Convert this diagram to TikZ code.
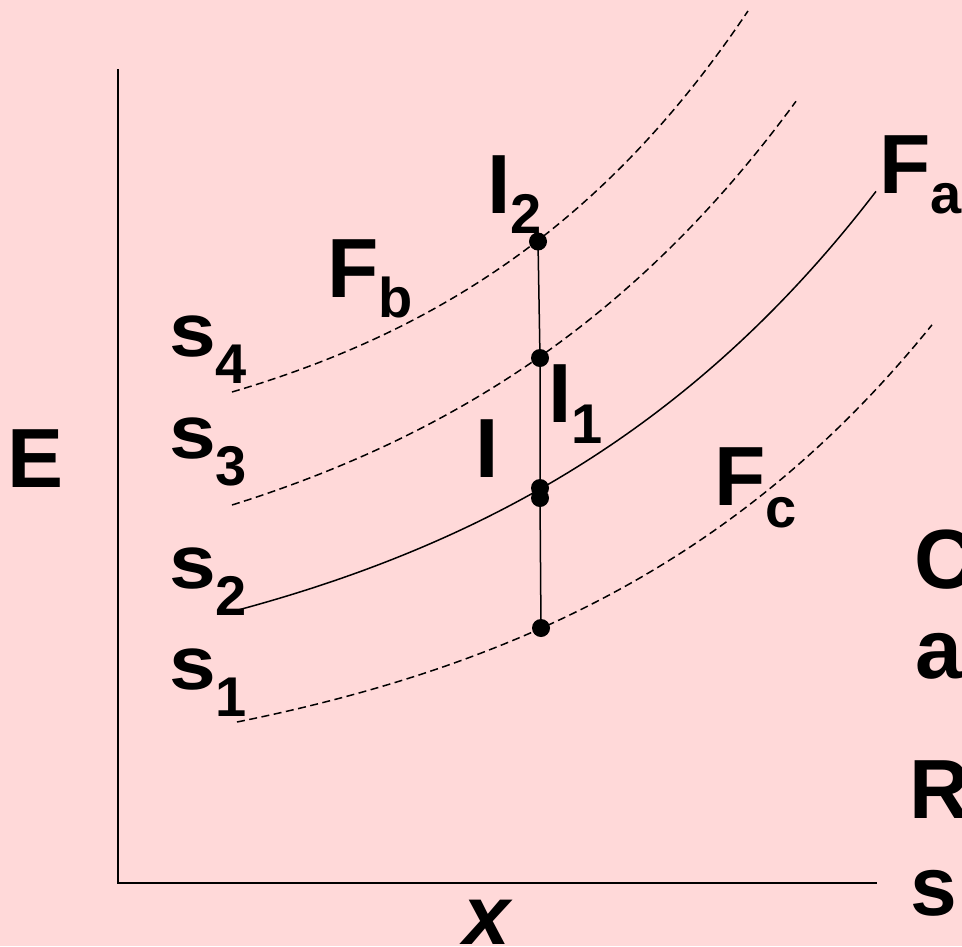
\documentclass[tikz,border=0pt]{standalone}
\usepackage{fontspec}
\setmainfont{Liberation Sans}
\usepackage{graphicx}
\definecolor{bgpink}{RGB}{255,217,217}
\newcommand\bigtxt{\bfseries\fontsize{84}{84}\selectfont}
\newcommand\subtxt{\bfseries\fontsize{56}{56}\selectfont}
\newcommand\mysub[2]{\raisebox{-#1pt}{\subtxt #2}}
\newcommand\slab[1]{\scalebox{1}[0.9]{\bigtxt s}\mysub{27}{#1}}
\begin{document}
\begin{tikzpicture}[x=1pt,y=-1pt,
  lab/.style={inner sep=0pt,outer sep=0pt,anchor=base west,font=\bigtxt},
  axis/.style={line width=1.8pt},
  curve/.style={line width=1.5pt},
  dashcurve/.style={line width=1.5pt,dash pattern=on 8pt off 4.5pt},
  dot/.style={circle,fill=black,inner sep=0pt,minimum size=18pt}]
\fill[bgpink] (0,0) rectangle (962,946);
\useasboundingbox (0,0) rectangle (962,946);
\clip (0,0) rectangle (962,946);
% axes
\coordinate (ytop) at (118,69);
\coordinate (orig) at (118,883);
\coordinate (xend) at (877,883);
\draw[axis] (ytop) -- (orig) -- (xend);
% curves
\draw[dashcurve] plot[domain=232:748,samples=80] (\x,{392-93.8*(exp(0.003148*(\x-232))-1)});
\draw[dashcurve] plot[domain=232:796,samples=80] (\x,{505-120.3*(exp(0.002604*(\x-232))-1)});
\draw[curve] plot[domain=238:876,samples=80] (\x,{610-109*(exp(0.002473*(\x-238))-1)});
\draw[dashcurve] plot[domain=237:932,samples=80] (\x,{722-77.4*(exp(0.002616*(\x-237))-1)});
% points
\node[dot] (i2) at (538,241.5) {};
\node[dot] (i1) at (540,358) {};
\node[dot] (ia) at (540,488) {};
\node[dot] (ib) at (540,498) {};
\node[dot] (ic) at (541,628) {};
\draw[curve] (i2.center) -- (i1.center) -- (ia.center) -- (ib.center) -- (ic.center);
% labels
\node[lab] (E) at (7,487) {E};
\node[lab] (s4) at (169,356) {\slab{4}};
\node[lab] (s3) at (169,458) {\slab{3}};
\node[lab] (s2) at (169,588) {\slab{2}};
\node[lab] (s1) at (169,689) {\slab{1}};
\node[lab] (Fb) at (327,297) {F\mysub{20}{b}};
\node[lab] (I2) at (487,213) {I\mysub{20}{2}};
\node[lab] (I1) at (548,422) {I\mysub{21}{1}};
\node[lab] (I) at (475,477) {I};
\node[lab] (Fa) at (879,193) {F\mysub{20}{a}};
\node[lab] (Fc) at (714,505) {F\mysub{22}{c}};
\node[lab,font=\bigtxt\itshape] (X) at (463,944) {x};
\node[lab] (tC) at (914,588) {C};
\node[lab] (ta) at (915,678) {a};
\node[lab] (tR) at (909,818) {R};
\node[lab] (ts) at (910,915) {s};
\end{tikzpicture}
\end{document}
